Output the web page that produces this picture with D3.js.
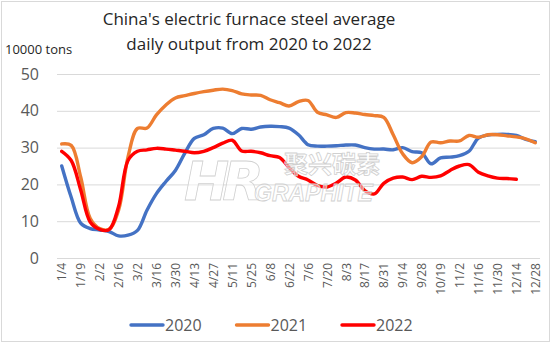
<!DOCTYPE html>
<html>
<head>
<meta charset="utf-8">
<script src="https://cdn.jsdelivr.net/npm/d3@7/dist/d3.min.js"></script>
<style>
  html, body { margin: 0; padding: 0; background: #fff; }
</style>
</head>
<body>
<div id="chart"></div>
<script>
// weekly categories (every other one gets a label)
var weeks = ['1/4','1/11','1/19','1/26','2/2','2/9','2/16','2/23','3/2','3/9','3/16','3/23','3/30',
  '4/6','4/13','4/20','4/27','5/4','5/11','5/18','5/25','6/1','6/8','6/15','6/22','6/29',
  '7/6','7/13','7/20','7/27','8/3','8/10','8/17','8/24','8/31','9/7','9/14','9/21','9/28',
  '10/12','10/19','10/26','11/2','11/9','11/16','11/23','11/30','12/7','12/14','12/21','12/28'];

var years = ['2020', '2021', '2022'];

var output2020 = [25.0,16.5,9.5,8.0,7.6,7.2,6.0,6.2,7.5,13.0,17.5,20.8,23.8,
  28.5,32.5,33.5,35.2,35.3,33.8,35.2,35.0,35.6,35.8,35.7,35.3,33.5,
  30.8,30.4,30.4,30.5,30.7,30.7,30.0,29.6,29.6,29.4,30.0,28.9,28.6,
  25.6,27.2,27.4,27.8,29.0,32.6,33.4,33.6,33.6,33.3,32.2,31.6];

var output2021 = [31.0,30.6,22.0,10.8,8.0,7.8,13.0,27.5,35.2,35.3,38.9,41.6,43.5,
  44.1,44.7,45.2,45.6,45.9,45.5,44.6,44.3,44.2,43.0,42.2,41.3,42.5,
  42.8,39.6,38.9,38.2,39.5,39.4,39.0,38.7,38.2,33.5,28.3,25.9,27.5,
  31.5,31.3,31.8,31.8,33.3,32.8,33.5,33.5,33.2,32.9,32.4,31.3];

var output2022 = [29.0,26.5,18.5,9.8,7.8,7.7,14.0,26.5,29.0,29.4,29.8,29.6,29.3,
  29.0,28.6,29.0,30.0,31.2,32.0,29.1,29.0,28.6,27.8,27.3,24.6,22.2,
  21.2,19.7,19.3,20.4,22.0,21.2,18.3,17.4,20.3,21.7,22.0,21.3,22.2,
  21.9,22.3,23.8,25.0,25.4,23.3,22.3,21.7,21.6,21.4,null,null];

var yTicks = [0, 10, 20, 30, 40, 50];

function renderLineChart(params) {

  var attrs = {
    svgWidth: 554,
    svgHeight: 344,
    marginTop: 74,
    marginBottom: 86,
    marginLeft: 57,
    marginRight: 14,
    container: 'body',
    defaultFont: "'Open Sans', 'Noto Sans', sans-serif",
    textFill: '#595959',
    gridColor: '#d9d9d9',
    colors: ['#4472c4', '#ed7d31', '#ff0000']
  };
  Object.keys(params || {}).forEach(function (k) { attrs[k] = params[k]; });

  var calc = {};
  calc.chartWidth = attrs.svgWidth - attrs.marginLeft - attrs.marginRight;
  calc.chartHeight = attrs.svgHeight - attrs.marginTop - attrs.marginBottom;

  var series = [output2020, output2021, output2022].map(function (vals, i) {
    return { name: years[i], color: attrs.colors[i], values: vals };
  });

  var x = d3.scalePoint()
    .domain(weeks)
    .range([attrs.marginLeft, attrs.marginLeft + calc.chartWidth])
    .padding(0.5);

  var y = d3.scaleLinear()
    .domain([0, 50])
    .range([attrs.marginTop + calc.chartHeight, attrs.marginTop]);

  var svg = d3.select(attrs.container).append('svg')
    .attr('width', attrs.svgWidth)
    .attr('height', attrs.svgHeight)
    .attr('font-family', attrs.defaultFont);

  // outer frame
  svg.append('rect')
    .attr('x', 1.5).attr('y', 1.5)
    .attr('width', attrs.svgWidth - 6).attr('height', attrs.svgHeight - 4)
    .attr('fill', '#fff')
    .attr('stroke', attrs.gridColor);

  // title
  svg.append('text')
    .attr('x', 249).attr('y', 25)
    .attr('text-anchor', 'middle')
    .attr('font-size', 17)
    .attr('fill', '#262626')
    .selectAll('tspan')
    .data(["China's electric furnace steel average", 'daily output from 2020 to 2022'])
    .enter().append('tspan')
    .attr('x', 249)
    .attr('dy', function (d, i) { return i ? 25 : 0; })
    .text(function (d) { return d; });

  svg.append('text')
    .attr('x', 5).attr('y', 54)
    .attr('font-size', 13)
    .attr('fill', '#262626')
    .text('10000 tons');

  // gridlines + y labels
  var yAxis = d3.axisLeft(y)
    .tickValues(yTicks)
    .tickSize(-calc.chartWidth)
    .tickPadding(18);

  svg.append('g')
    .attr('transform', 'translate(' + attrs.marginLeft + ',0)')
    .call(yAxis)
    .call(function (g) {
      g.select('.domain').remove();
      g.selectAll('.tick line').attr('stroke', attrs.gridColor);
      g.selectAll('.tick text')
        .attr('font-size', 16)
        .attr('fill', attrs.textFill)
        .attr('font-family', attrs.defaultFont);
    });

  // x labels, rotated, every second week
  var xAxis = d3.axisBottom(x)
    .tickValues(weeks.filter(function (d, i) { return i % 2 === 0; }))
    .tickSize(0)
    .tickPadding(0);

  svg.append('g')
    .attr('transform', 'translate(0,' + (attrs.marginTop + calc.chartHeight) + ')')
    .call(xAxis)
    .call(function (g) {
      g.select('.domain').remove();
      g.selectAll('.tick text')
        .attr('font-size', 12)
        .attr('fill', attrs.textFill)
        .attr('font-family', attrs.defaultFont)
        .attr('text-anchor', 'end')
        .attr('transform', 'rotate(-90)')
        .attr('x', -5)
        .attr('y', 0)
        .attr('dy', '0.35em');
    });

  // lines
  var line = d3.line()
    .defined(function (d) { return d != null; })
    .x(function (d, i) { return x(weeks[i]); })
    .y(function (d) { return y(d); })
    .curve(d3.curveCatmullRom.alpha(0.5));

  svg.append('g').selectAll('path')
    .data(series)
    .enter().append('path')
    .attr('fill', 'none')
    .attr('stroke', function (d) { return d.color; })
    .attr('stroke-width', 3.4)
    .attr('stroke-linejoin', 'round')
    .attr('stroke-linecap', 'round')
    .attr('d', function (d) { return line(d.values); });

  // watermark laid over the plot
  var wm = svg.append('g')
    .attr('fill', 'rgba(255,255,255,0.5)')
    .attr('stroke', '#d0d0d0')
    .attr('stroke-width', 0.8);
  wm.append('text')
    .attr('x', 184).attr('y', 200)
    .attr('font-size', 54).attr('font-style', 'italic').attr('font-weight', 'bold')
    .attr('font-family', "'DejaVu Sans', sans-serif")
    .attr('letter-spacing', -7)
    .text('HR');
  wm.append('text')
    .attr('x', 284).attr('y', 173)
    .attr('font-size', 24).attr('font-weight', 'bold')
    .attr('font-family', "'Noto Sans CJK SC', sans-serif")
    .text('聚兴碳素');
  wm.append('text')
    .attr('x', 254).attr('y', 201)
    .attr('font-size', 23).attr('font-weight', 'bold').attr('font-style', 'italic')
    .attr('font-family', "'Liberation Sans', sans-serif")
    .text('GRAPHITE');

  // legend
  var legend = svg.append('g').selectAll('g')
    .data(series)
    .enter().append('g')
    .attr('transform', function (d, i) { return 'translate(' + (131 + i * 105.5) + ',325)'; });

  legend.append('line')
    .attr('x1', 0).attr('x2', 32)
    .attr('stroke', function (d) { return d.color; })
    .attr('stroke-width', 3.4)
    .attr('stroke-linecap', 'round');

  legend.append('text')
    .attr('x', 34).attr('dy', '0.35em')
    .attr('font-size', 16)
    .attr('fill', attrs.textFill)
    .text(function (d) { return d.name; });
}

renderLineChart({ container: '#chart' });
</script>
</body>
</html>
